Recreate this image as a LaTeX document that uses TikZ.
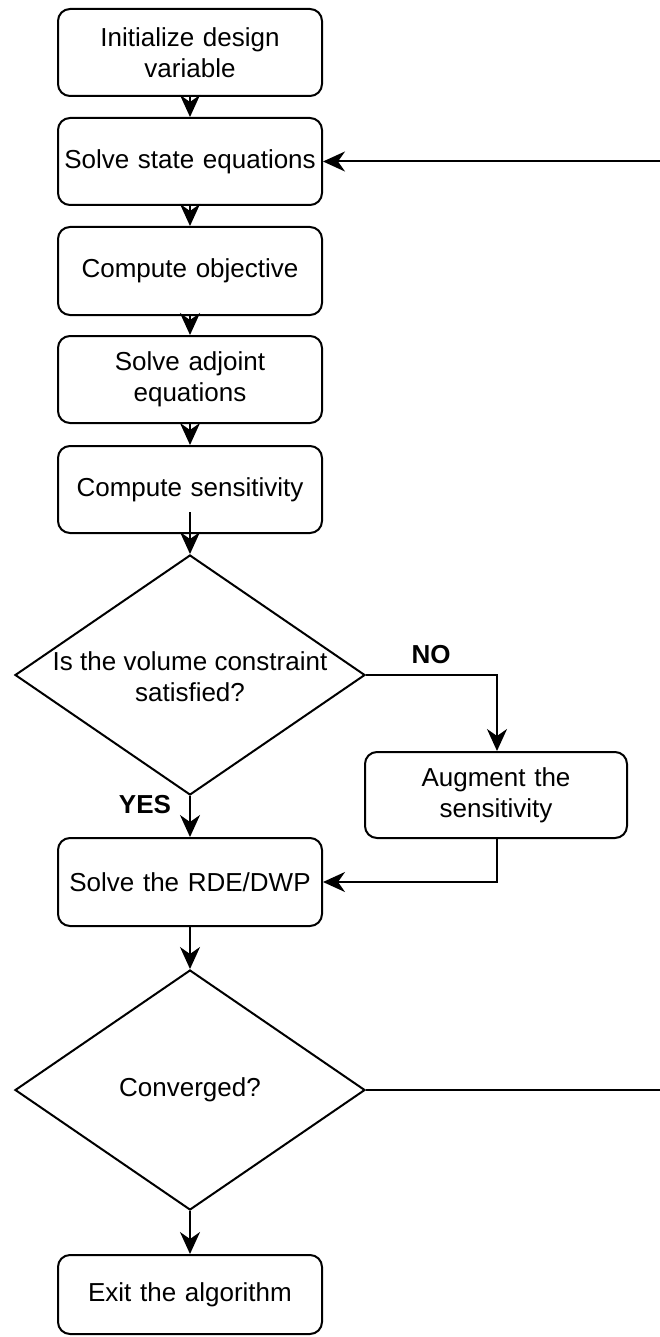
\documentclass[tikz,border=0pt]{standalone}
\usepackage{fontspec}
\setmainfont{Liberation Sans}
\usetikzlibrary{shapes.geometric,arrows.meta}
\begin{document}
\begin{tikzpicture}[x=1pt,y=-1pt,
  every node/.style={font=\fontsize{26}{31}\selectfont},
  stepbox/.style={draw,line width=2pt,rounded corners=12pt,minimum width=264pt,
     text width=262pt,align=center,inner sep=0pt},
  dia/.style={draw,line width=2pt,diamond,minimum width=350pt,minimum height=240pt,inner sep=0pt},
  lbl/.style={align=center,inner sep=0pt},
  yn/.style={font=\fontsize{26}{30}\selectfont\bfseries,inner sep=0pt},
  arr/.style={line width=2pt,-{Stealth[length=22pt,width=20pt,inset=7pt]}},
  ln/.style={line width=2pt}]
\useasboundingbox (0,0) rectangle (660,1337);
\fill[white] (0,0) rectangle (660,1337);
\node[stepbox,minimum height=87pt] (b1) at (190,52.5) {Initialize design\\variable};
\node[stepbox,minimum height=87pt] (b2) at (190,161.5) {Solve state equations};
\node[stepbox,minimum height=88pt] (b3) at (190,271) {Compute objective};
\node[stepbox,minimum height=87pt] (b4) at (190,379.5) {Solve adjoint\\equations};
\node[stepbox,minimum height=87pt] (b5) at (190,489.5) {Compute sensitivity};
\node[dia] (d1) at (190,675) {};
\node[lbl] (t1) at (190,677) {Is the volume constraint\\satisfied?};
\node[stepbox,minimum width=262pt,text width=250pt,minimum height=86pt] (aug) at (496,795) {Augment the\\sensitivity};
\node[stepbox,minimum height=88pt] (b6) at (190,882) {Solve the RDE/DWP};
\node[dia] (d2) at (190,1090) {};
\node[lbl] (t2) at (190,1090) {Converged?};
\node[stepbox,minimum height=79pt] (b7) at (190,1294.5) {Exit the algorithm};
\node[yn] (yes) at (145,805) {YES};
\node[yn] (no) at (431,655) {NO};
\coordinate (c5) at (190,512);
\coordinate (e1) at (660,161.5);
\coordinate (e2) at (660,1090);
\coordinate (k1) at (497,675);
\coordinate (k2) at (497,882);
\draw[arr] (b1) -- (b2);
\draw[arr] (b2) -- (b3);
\draw[arr] (b3) -- (b4);
\draw[arr] (b4) -- (b5);
\draw[arr] (c5) -- (d1.north);
\draw[arr] (d1.south) -- (b6);
\draw[arr] (b6) -- (d2.north);
\draw[arr] (d2.south) -- (b7);
\draw[arr] (d1.east) -- (k1) -- (aug.north -| k1);
\draw[arr] (aug.south -| k2) -- (k2) -- (b6.east);
\draw[ln] (d2.east) -- (e2);
\draw[arr] (e1) -- (b2.east);
\end{tikzpicture}
\end{document}
